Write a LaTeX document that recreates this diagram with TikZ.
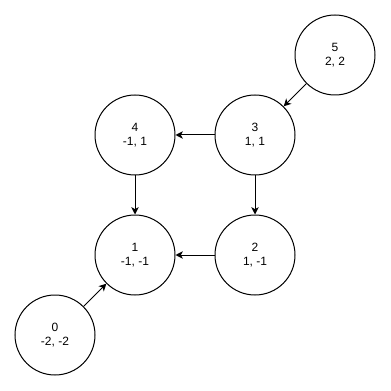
\documentclass[tikz,border=0pt]{standalone}
\usepackage{fontspec}
\setmainfont{Liberation Sans}
\usetikzlibrary{arrows.meta}
\begin{document}
\begin{tikzpicture}[x=0.75pt,y=-0.75pt,
  vtx/.style={circle,draw=black,line width=0.75pt,fill=white,minimum size=60pt,inner sep=0pt,
    align=center,font=\fontsize{9}{10.8}\selectfont},
  link/.style={line width=0.75pt,-{Stealth[length=5.5pt,width=5.5pt,inset=1.5pt]}}]
\useasboundingbox (0,0) rectangle (391,391);
\node[vtx] (n5) at (335,55) {5\\2, 2};
\node[vtx] (n3) at (255,135) {3\\1, 1};
\node[vtx] (n4) at (135,135) {4\\-1, 1};
\node[vtx] (n1) at (135,255) {1\\-1, -1};
\node[vtx] (n2) at (255,255) {2\\1, -1};
\node[vtx] (n0) at (55,335) {0\\-2, -2};
\draw[link] (n5) -- (n3);
\draw[link] (n3) -- (n4);
\draw[link] (n3) -- (n2);
\draw[link] (n4) -- (n1);
\draw[link] (n2) -- (n1);
\draw[link] (n0) -- (n1);
\end{tikzpicture}
\end{document}
